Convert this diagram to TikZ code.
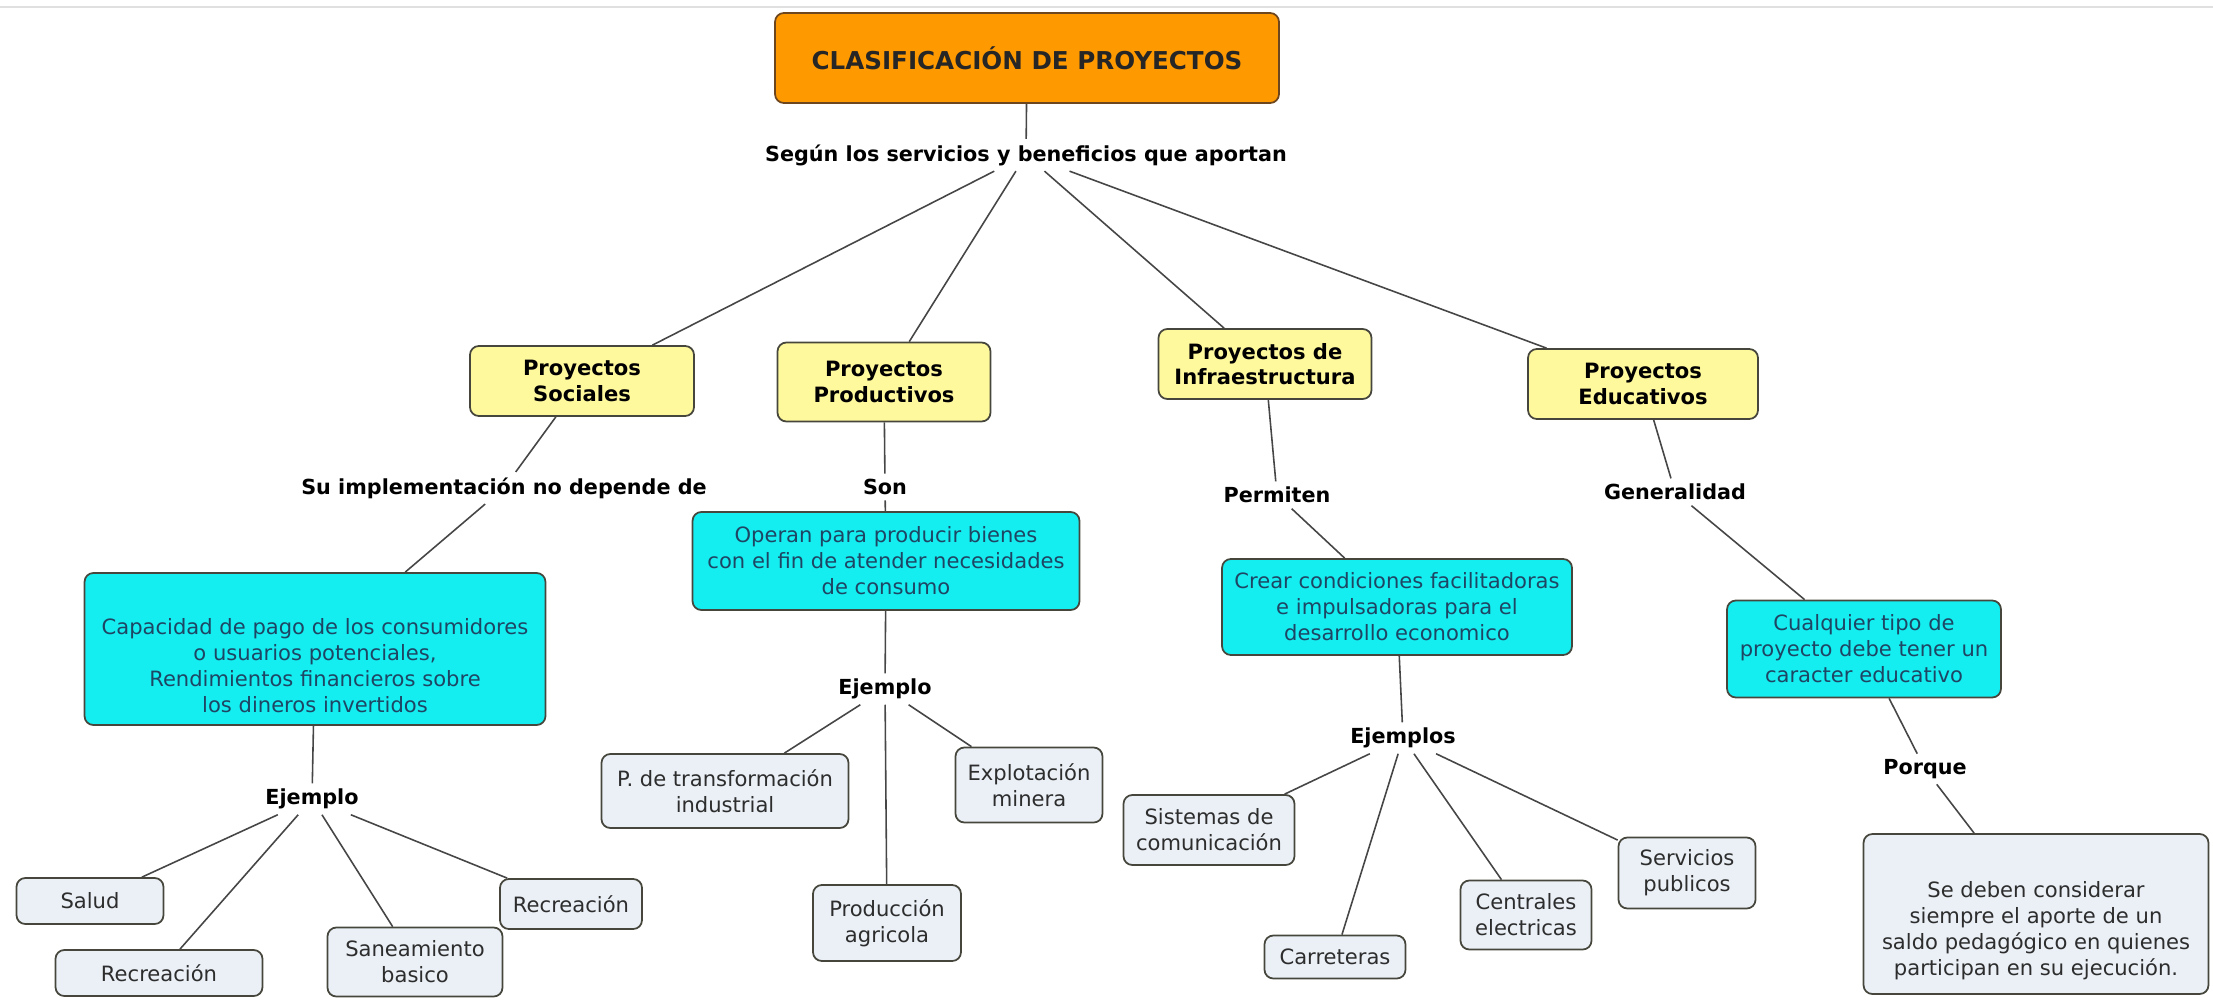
\documentclass[tikz,border=0pt]{standalone}
\usepackage{fontspec}
\setmainfont{DejaVu Sans}
\usetikzlibrary{positioning}

\definecolor{naranja}{RGB}{255,153,0}
\definecolor{bordeNaranja}{RGB}{110,70,30}
\definecolor{amarillo}{RGB}{255,249,158}
\definecolor{cian}{RGB}{20,238,240}
\definecolor{grisClaro}{RGB}{234,240,246}
\definecolor{bordeOscuro}{RGB}{70,70,60}
\definecolor{textoAzul}{RGB}{30,70,100}
\definecolor{textoGris}{RGB}{45,45,45}
\definecolor{lineaGris}{RGB}{70,70,70}

\begin{document}
\begin{tikzpicture}[
    x=0.02cm, y=-0.02cm,
    caja/.style={rectangle, draw=bordeOscuro, line width=1pt, rounded corners=5pt, align=center, inner sep=2pt},
    titulo/.style={caja, draw=bordeNaranja, fill=naranja, text=black!85,
                   font=\fontsize{14}{17}\selectfont\bfseries},
    tipo/.style={caja, fill=amarillo, font=\fontsize{12}{14.6}\selectfont\bfseries},
    idea/.style={caja, fill=cian, text=textoAzul, font=\fontsize{12}{14.8}\selectfont},
    ejemplo/.style={caja, fill=grisClaro, text=textoGris, font=\fontsize{12}{14.8}\selectfont},
    enlace/.style={font=\fontsize{11.8}{14}\selectfont\bfseries, inner sep=3pt},
    linea/.style={draw=lineaGris, line width=0.9pt}
]
    \useasboundingbox (0,0) rectangle (2213,1001);
    \draw[black!12, line width=1.2pt] (0,7) -- (2213,7);

    % Raiz
    \node[titulo, minimum width=10.08cm, minimum height=1.8cm] (titulo) at (1027,58) {CLASIFICACIÓN DE PROYECTOS};
    \node[enlace] (segun) at (1026,155) {Según los servicios y beneficios que aportan};

    % Tipos de proyecto
    \node[tipo, minimum width=4.48cm, minimum height=1.4cm] (soc) at (582,381) {Proyectos\\Sociales};
    \node[tipo, minimum width=4.26cm, minimum height=1.58cm] (prod) at (884,382) {Proyectos\\Productivos};
    \node[tipo, minimum width=4.26cm, minimum height=1.4cm] (infra) at (1265,364) {Proyectos de\\Infraestructura};
    \node[tipo, minimum width=4.6cm, minimum height=1.4cm] (edu) at (1643,384) {Proyectos\\Educativos};

    % Frases de enlace
    \node[enlace] (impl) at (504,488) {Su implementación no depende de};
    \node[enlace] (son) at (885,487) {Son};
    \node[enlace] (permiten) at (1277,495) {Permiten};
    \node[enlace] (generalidad) at (1675,492) {Generalidad};

    % Ideas
    \node[idea, minimum width=9.22cm, minimum height=3.04cm] (capacidad) at (315,649)
        {\rule{0pt}{28pt}Capacidad de pago de los consumidores\\o usuarios potenciales,\\Rendimientos financieros sobre\\los dineros invertidos};
    \node[idea, minimum width=7.74cm, minimum height=1.96cm] (operan) at (886,561)
        {Operan para producir bienes\\con el fin de atender necesidades\\de consumo};
    \node[idea, minimum width=7.0cm, minimum height=1.92cm] (crear) at (1397,607)
        {Crear condiciones facilitadoras\\e impulsadoras para el\\desarrollo economico};
    \node[idea, minimum width=5.48cm, minimum height=1.94cm] (cualquier) at (1864,649)
        {Cualquier tipo de\\proyecto debe tener un\\caracter educativo};

    \node[enlace] (ej1) at (312,799) {Ejemplo};
    \node[enlace] (ej2) at (885,689) {Ejemplo};
    \node[enlace] (ejs) at (1403,738) {Ejemplos};
    \node[enlace] (porque) at (1925,769) {Porque};

    % Ejemplos
    \node[ejemplo, minimum width=2.94cm, minimum height=0.92cm] (salud) at (90,901) {Salud};
    \node[ejemplo, minimum width=4.14cm, minimum height=0.92cm] (recreacionA) at (159,973) {Recreación};
    \node[ejemplo, minimum width=3.5cm, minimum height=1.38cm] (saneamiento) at (415,962) {Saneamiento\\basico};
    \node[ejemplo, minimum width=2.84cm, minimum height=1.0cm] (recreacionB) at (571,904) {Recreación};

    \node[ejemplo, minimum width=4.94cm, minimum height=1.48cm] (transformacion) at (725,791) {P. de transformación\\industrial};
    \node[ejemplo, minimum width=2.96cm, minimum height=1.52cm] (produccion) at (887,923) {Producción\\agricola};
    \node[ejemplo, minimum width=2.94cm, minimum height=1.5cm] (explotacion) at (1029,785) {Explotación\\minera};

    \node[ejemplo, minimum width=3.42cm, minimum height=1.4cm] (sistemas) at (1209,830) {Sistemas de\\comunicación};
    \node[ejemplo, minimum width=2.82cm, minimum height=0.86cm] (carreteras) at (1335,957) {Carreteras};
    \node[ejemplo, minimum width=2.62cm, minimum height=1.38cm] (centrales) at (1526,915) {Centrales\\electricas};
    \node[ejemplo, minimum width=2.74cm, minimum height=1.42cm] (servicios) at (1687,873) {Servicios\\publicos};

    \node[ejemplo, minimum width=6.9cm, minimum height=3.2cm] (sedeben) at (2036,914)
        {\rule{0pt}{28pt}Se deben considerar\\siempre el aporte de un\\saldo pedagógico en quienes\\participan en su ejecución.};

    % Conectores
    \draw[linea] (titulo) -- (segun);
    \foreach \t in {soc, prod, infra, edu}
        \draw[linea] (segun) -- (\t);
    \draw[linea] (soc) -- (impl) -- (capacidad);
    \draw[linea] (prod) -- (son) -- (operan);
    \draw[linea] (infra) -- (permiten) -- (crear);
    \draw[linea] (edu) -- (generalidad) -- (cualquier);

    \draw[linea] (capacidad) -- (ej1);
    \foreach \e in {salud, recreacionA, saneamiento, recreacionB}
        \draw[linea] (ej1) -- (\e);
    \draw[linea] (operan) -- (ej2);
    \foreach \e in {transformacion, produccion, explotacion}
        \draw[linea] (ej2) -- (\e);
    \draw[linea] (crear) -- (ejs);
    \foreach \e in {sistemas, carreteras, centrales, servicios}
        \draw[linea] (ejs) -- (\e);
    \draw[linea] (cualquier) -- (porque) -- (sedeben);

\end{tikzpicture}
\end{document}
